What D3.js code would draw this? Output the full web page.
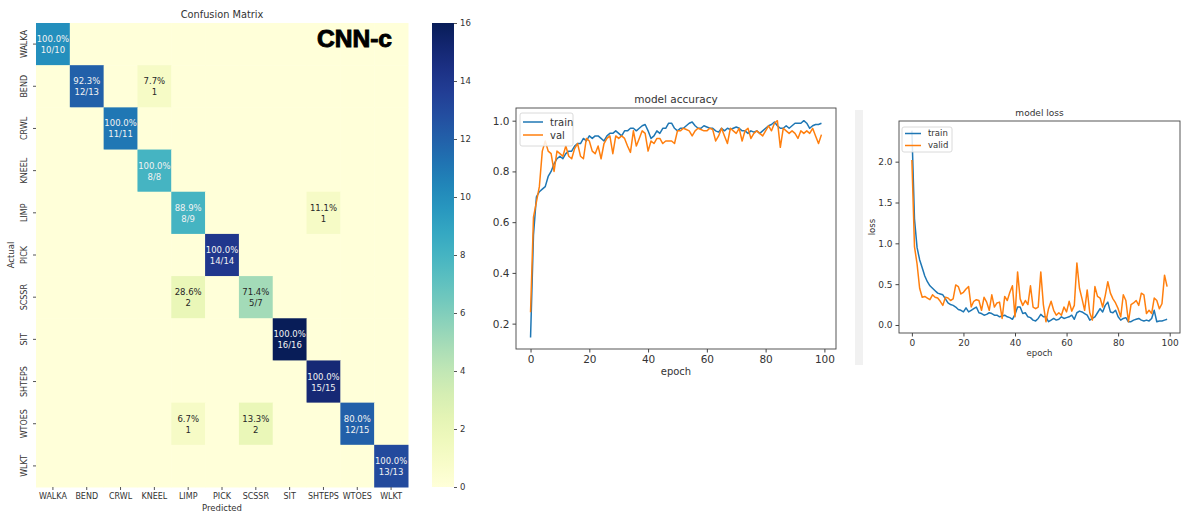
<!DOCTYPE html>
<html>
<head>
<meta charset="utf-8">
<script src="https://cdn.jsdelivr.net/npm/d3@7"></script>
<style>
  html, body { margin: 0; padding: 0; background: #fff; }
  svg { display: block; font-family: "DejaVu Sans", sans-serif; }
</style>
</head>
<body>
<svg id="fig" width="1182" height="515"></svg>
<script>
// ---- confusion matrix data ----
const classes = ["WALKA", "BEND", "CRWL", "KNEEL", "LIMP", "PICK", "SCSSR", "SIT", "SHTEPS", "WTOES", "WLKT"];
const confusion = [
  [10, 0, 0, 0, 0, 0, 0, 0, 0, 0, 0],
  [0, 12, 0, 1, 0, 0, 0, 0, 0, 0, 0],
  [0, 0, 11, 0, 0, 0, 0, 0, 0, 0, 0],
  [0, 0, 0, 8, 0, 0, 0, 0, 0, 0, 0],
  [0, 0, 0, 0, 8, 0, 0, 0, 1, 0, 0],
  [0, 0, 0, 0, 0, 14, 0, 0, 0, 0, 0],
  [0, 0, 0, 0, 2, 0, 5, 0, 0, 0, 0],
  [0, 0, 0, 0, 0, 0, 0, 16, 0, 0, 0],
  [0, 0, 0, 0, 0, 0, 0, 0, 15, 0, 0],
  [0, 0, 0, 0, 1, 0, 2, 0, 0, 12, 0],
  [0, 0, 0, 0, 0, 0, 0, 0, 0, 0, 13]
];
const colorbarTicks = [0, 2, 4, 6, 8, 10, 12, 14, 16];

// ---- training history ----
const epochs = d3.range(100);
const trainAcc = [
  0.145, 0.55, 0.70, 0.72, 0.73, 0.74, 0.78, 0.80, 0.83, 0.85,
  0.86, 0.85, 0.87, 0.88, 0.88, 0.90, 0.91, 0.91, 0.93, 0.92,
  0.94, 0.93, 0.94, 0.94, 0.93, 0.92, 0.94, 0.95, 0.95, 0.96,
  0.95, 0.94, 0.96, 0.96, 0.97, 0.97, 0.96, 0.97, 0.98, 0.985,
  0.96, 0.93, 0.94, 0.96, 0.95, 0.97, 0.97, 0.99, 0.99, 0.97,
  0.96, 0.97, 0.97, 0.98, 0.99, 0.995, 0.98, 0.97, 0.97, 0.98,
  0.975, 0.97, 0.97, 0.96, 0.955, 0.97, 0.96, 0.97, 0.965, 0.97,
  0.975, 0.97, 0.96, 0.96, 0.95, 0.96, 0.955, 0.96, 0.95, 0.96,
  0.97, 0.98, 0.985, 0.995, 0.98, 0.97, 0.97, 0.98, 0.97, 0.98,
  0.99, 0.99, 0.99, 1.0, 0.99, 0.97, 0.98, 0.985, 0.985, 0.99
];
const valAcc = [
  0.245, 0.62, 0.68, 0.74, 0.88, 0.92, 0.88, 0.87, 0.80, 0.88,
  0.87, 0.86, 0.90, 0.86, 0.85, 0.89, 0.91, 0.86, 0.85, 0.93,
  0.92, 0.88, 0.87, 0.90, 0.85, 0.91, 0.93, 0.94, 0.87, 0.94,
  0.93, 0.94, 0.93, 0.90, 0.875, 0.96, 0.90, 0.93, 0.96, 0.95,
  0.88, 0.92, 0.91, 0.93, 0.93, 0.91, 0.92, 0.92, 0.92, 0.91,
  0.96, 0.96, 0.97, 0.965, 0.96, 0.94, 0.96, 0.97, 0.965, 0.96,
  0.96, 0.97, 0.965, 0.92, 0.94, 0.97, 0.94, 0.91, 0.97, 0.96,
  0.95, 0.97, 0.92, 0.96, 0.97, 0.93, 0.95, 0.96, 0.95, 0.94,
  0.96, 0.98, 0.96, 0.99, 1.0, 0.895, 0.97, 0.96, 0.95, 0.96,
  0.95, 0.93, 0.96, 0.95, 0.96, 0.95, 0.97, 0.94, 0.91, 0.945
];
const trainLoss = [
  2.38, 1.30, 0.95, 0.80, 0.70, 0.60, 0.53, 0.48, 0.45, 0.42,
  0.39, 0.38, 0.37, 0.32, 0.27, 0.25, 0.24, 0.22, 0.19, 0.18,
  0.16, 0.21, 0.16, 0.18, 0.20, 0.22, 0.15, 0.14, 0.12, 0.13,
  0.15, 0.14, 0.12, 0.12, 0.10, 0.11, 0.12, 0.10, 0.09, 0.07,
  0.13, 0.22, 0.22, 0.14, 0.15, 0.10, 0.09, 0.06, 0.05, 0.08,
  0.13, 0.10, 0.10, 0.04, 0.06, 0.08, 0.06, 0.07, 0.10, 0.08,
  0.09, 0.10, 0.12, 0.07, 0.15, 0.17, 0.16, 0.14, 0.12, 0.06,
  0.08, 0.10, 0.15, 0.20, 0.16, 0.24, 0.28, 0.16, 0.15, 0.18,
  0.10, 0.06, 0.08, 0.09, 0.04, 0.04, 0.06, 0.07, 0.08, 0.06,
  0.05, 0.06, 0.05, 0.08, 0.18, 0.04, 0.05, 0.05, 0.06, 0.07
];
const validLoss = [
  2.02, 0.96, 0.75, 0.45, 0.34, 0.35, 0.33, 0.31, 0.37, 0.34,
  0.33, 0.29, 0.24, 0.34, 0.33, 0.30, 0.32, 0.49, 0.47, 0.38,
  0.40, 0.44, 0.47, 0.22, 0.29, 0.31, 0.30, 0.18, 0.34, 0.28,
  0.18, 0.37, 0.22, 0.27, 0.28, 0.08, 0.35, 0.30, 0.40, 0.48,
  0.10, 0.65, 0.32, 0.24, 0.30, 0.25, 0.48, 0.22, 0.20, 0.22,
  0.65, 0.25, 0.04, 0.20, 0.29, 0.18, 0.12, 0.15, 0.12, 0.22,
  0.16, 0.29, 0.17, 0.24, 0.76, 0.45, 0.32, 0.18, 0.43, 0.15,
  0.06, 0.47, 0.35, 0.33, 0.22, 0.36, 0.53, 0.39, 0.32, 0.27,
  0.20, 0.10, 0.37, 0.30, 0.04, 0.25, 0.27, 0.30, 0.24, 0.39,
  0.37, 0.14, 0.18, 0.14, 0.33, 0.30, 0.20, 0.26, 0.61, 0.47
];
const accTicks = [0.2, 0.4, 0.6, 0.8, 1.0];
const lossTicks = [0.0, 0.5, 1.0, 1.5, 2.0];
const epochTicks = [0, 20, 40, 60, 80, 100];

const BLUE = "#1f77b4", ORANGE = "#ff7f0e", INK = "#333";
const svg = d3.select("#fig");
svg.append("rect").attr("width", 1182).attr("height", 515).attr("fill", "#fff");
const defs = svg.append("defs");

// ================= confusion matrix heatmap =================
const hm = { x0: 36, x1: 408, y0: 23, y1: 487 };
const xBand = d3.scaleBand().domain(classes).range([hm.x0, hm.x1]);
const yBand = d3.scaleBand().domain(classes).range([hm.y0, hm.y1]);
const color = d3.scaleSequential(d3.interpolateYlGnBu).domain([0, 16]);
const rowTotals = confusion.map(r => d3.sum(r));

const cells = [];
confusion.forEach((row, i) => row.forEach((v, j) => cells.push({ i, j, v })));

const gHm = svg.append("g");
gHm.selectAll("rect.cell").data(cells).join("rect")
  .attr("class", "cell")
  .attr("x", d => xBand(classes[d.j]))
  .attr("y", d => yBand(classes[d.i]))
  .attr("width", xBand.bandwidth() + 0.5)
  .attr("height", yBand.bandwidth() + 0.5)
  .attr("fill", d => color(d.v));

// light text on dark cells, dark text on light cells
function textColorFor(v) {
  const c = d3.rgb(color(v));
  const lin = u => { u /= 255; return u <= 0.03928 ? u / 12.92 : Math.pow((u + 0.055) / 1.055, 2.4); };
  const L = 0.2126 * lin(c.r) + 0.7152 * lin(c.g) + 0.0722 * lin(c.b);
  return L < 0.45 ? "#f2f2f2" : "#262626";
}

const annotated = cells.filter(d => d.v > 0);
const annot = gHm.selectAll("g.annot").data(annotated).join("g")
  .attr("class", "annot")
  .attr("transform", d => `translate(${xBand(classes[d.j]) + xBand.bandwidth() / 2},${yBand(classes[d.i]) + yBand.bandwidth() / 2})`)
  .attr("font-size", 8.5)
  .attr("text-anchor", "middle")
  .attr("fill", d => textColorFor(d.v));
annot.append("text").attr("y", -2)
  .text(d => (100 * d.v / rowTotals[d.i]).toFixed(1) + "%");
annot.append("text").attr("y", 9)
  .text(d => d.i === d.j ? `${d.v}/${rowTotals[d.i]}` : `${d.v}`);

// heatmap axes
const gHx = svg.append("g").attr("transform", `translate(0,${hm.y1})`)
  .call(d3.axisBottom(xBand).tickSize(3).tickPadding(3));
gHx.select(".domain").remove();
gHx.selectAll("line").attr("stroke", "#555");
gHx.selectAll("text").attr("font-size", 8).attr("fill", INK).attr("font-family", "DejaVu Sans");

const gHy = svg.append("g").attr("transform", `translate(${hm.x0},0)`)
  .call(d3.axisLeft(yBand).tickSize(3).tickPadding(3));
gHy.select(".domain").remove();
gHy.selectAll("line").attr("stroke", "#555");
gHy.selectAll("text")
  .attr("font-size", 8).attr("fill", INK).attr("font-family", "DejaVu Sans")
  .attr("text-anchor", "middle").attr("dy", null).attr("x", null)
  .attr("transform", "translate(-9,0) rotate(-90)");

svg.append("text").attr("x", (hm.x0 + hm.x1) / 2).attr("y", 18)
  .attr("text-anchor", "middle").attr("font-size", 9.8).attr("fill", INK)
  .text("Confusion Matrix");
svg.append("text").attr("x", (hm.x0 + hm.x1) / 2).attr("y", 511)
  .attr("text-anchor", "middle").attr("font-size", 8.5).attr("fill", INK)
  .text("Predicted");
svg.append("text").attr("transform", `translate(14,${(hm.y0 + hm.y1) / 2}) rotate(-90)`)
  .attr("text-anchor", "middle").attr("font-size", 8.5).attr("fill", INK)
  .text("Actual");

svg.append("text").attr("x", 392).attr("y", 47)
  .attr("text-anchor", "end")
  .attr("font-family", "Liberation Sans, Arial, sans-serif")
  .attr("font-weight", 900).attr("font-size", 23)
  .attr("fill", "#000").attr("stroke", "#000").attr("stroke-width", 0.9)
  .attr("textLength", 75).attr("lengthAdjust", "spacingAndGlyphs")
  .text("CNN-c");

// colorbar
const cb = { x: 432, w: 22 };
const cbScale = d3.scaleLinear().domain([0, 16]).range([hm.y1, hm.y0]);
const grad = defs.append("linearGradient")
  .attr("id", "cbgrad").attr("x1", 0).attr("x2", 0).attr("y1", 1).attr("y2", 0);
d3.range(0, 1.0001, 0.05).forEach(t => {
  grad.append("stop").attr("offset", t).attr("stop-color", color(t * 16));
});
svg.append("rect").attr("x", cb.x).attr("y", hm.y0)
  .attr("width", cb.w).attr("height", hm.y1 - hm.y0)
  .attr("fill", "url(#cbgrad)");
const gCb = svg.append("g").attr("transform", `translate(${cb.x + cb.w},0)`)
  .call(d3.axisRight(cbScale).tickValues(colorbarTicks).tickFormat(d3.format("d")).tickSize(3).tickPadding(3));
gCb.select(".domain").remove();
gCb.selectAll("line").attr("stroke", "#555");
gCb.selectAll("text").attr("font-size", 8.5).attr("fill", INK).attr("font-family", "DejaVu Sans");

// ================= line chart helper =================
function lineChart(opt) {
  const x = d3.scaleLinear().domain(opt.xDomain).range([opt.left, opt.right]);
  const y = d3.scaleLinear().domain(opt.yDomain).range([opt.bottom, opt.top]);
  const g = svg.append("g");
  g.append("rect").attr("x", opt.left).attr("y", opt.top)
    .attr("width", opt.right - opt.left).attr("height", opt.bottom - opt.top)
    .attr("fill", "#fff");

  const defId = "clip" + opt.id;
  defs.append("clipPath").attr("id", defId)
    .append("rect").attr("x", opt.left).attr("y", opt.top)
    .attr("width", opt.right - opt.left).attr("height", opt.bottom - opt.top);

  const line = d3.line().x((d, i) => x(epochs[i])).y(d => y(d));
  const gl = g.append("g").attr("clip-path", `url(#${defId})`);
  opt.series.forEach(s => {
    gl.append("path").datum(s.values)
      .attr("fill", "none").attr("stroke", s.color)
      .attr("stroke-width", 1.5).attr("stroke-linejoin", "round")
      .attr("d", line);
  });

  const ax = g.append("g").attr("transform", `translate(0,${opt.bottom})`)
    .call(d3.axisBottom(x).tickValues(epochTicks).tickFormat(d3.format("d")).tickSize(3.5).tickPadding(3));
  const ay = g.append("g").attr("transform", `translate(${opt.left},0)`)
    .call(d3.axisLeft(y).tickValues(opt.yTicks).tickFormat(d3.format(".1f")).tickSize(3.5).tickPadding(3));
  [ax, ay].forEach(a => {
    a.select(".domain").remove();
    a.selectAll("line").attr("stroke", "#444");
    a.selectAll("text").attr("font-size", opt.fs).attr("fill", INK).attr("font-family", "DejaVu Sans");
  });

  g.append("rect").attr("x", opt.left).attr("y", opt.top)
    .attr("width", opt.right - opt.left).attr("height", opt.bottom - opt.top)
    .attr("fill", "none").attr("stroke", "#444").attr("stroke-width", 0.9);

  g.append("text").attr("x", (opt.left + opt.right) / 2).attr("y", opt.top - 5)
    .attr("text-anchor", "middle").attr("font-size", opt.fs).attr("fill", INK)
    .text(opt.title);
  g.append("text").attr("x", (opt.left + opt.right) / 2).attr("y", opt.xLabelY)
    .attr("text-anchor", "middle").attr("font-size", opt.fs * 0.95).attr("fill", INK)
    .text("epoch");
  if (opt.yLabel) {
    g.append("text").attr("transform", `translate(${opt.yLabelX},${(opt.top + opt.bottom) / 2}) rotate(-90)`)
      .attr("text-anchor", "middle").attr("font-size", opt.fs * 0.95).attr("fill", INK)
      .text(opt.yLabel);
  }

  // legend
  const L = opt.legend;
  const lg = g.append("g").attr("transform", `translate(${L.x},${L.y})`);
  lg.append("rect").attr("width", L.w).attr("height", L.h).attr("rx", 2)
    .attr("fill", "#fff").attr("fill-opacity", 0.85).attr("stroke", "#d0d0d0").attr("stroke-width", 0.8);
  opt.series.forEach((s, k) => {
    const yy = L.pad + k * L.step;
    lg.append("line").attr("x1", 3).attr("x2", 3 + L.lineLen).attr("y1", yy).attr("y2", yy)
      .attr("stroke", s.color).attr("stroke-width", 1.5);
    lg.append("text").attr("x", 3 + L.lineLen + 7).attr("y", yy).attr("dy", "0.35em")
      .attr("font-size", L.fs).attr("fill", INK).text(s.name);
  });
}

// model accuracy
lineChart({
  id: "acc", left: 516, right: 836, top: 108, bottom: 349,
  xDomain: [-4.95, 103.95], yDomain: [0.1, 1.05],
  yTicks: accTicks, fs: 10.5, title: "model accuracy", xLabelY: 375,
  series: [
    { name: "train", values: trainAcc, color: BLUE },
    { name: "val", values: valAcc, color: ORANGE }
  ],
  legend: { x: 520, y: 113, w: 53, h: 33, pad: 9, step: 13, lineLen: 20, fs: 10 }
});

// separator strip beside the loss panel
svg.append("rect").attr("x", 855).attr("y", 110).attr("width", 8).attr("height", 255)
  .attr("fill", "#f1f1f1");

// model loss
lineChart({
  id: "loss", left: 899, right: 1180, top: 121, bottom: 333,
  xDomain: [-5, 104], yDomain: [-0.098, 2.498],
  yTicks: lossTicks, fs: 9, title: "model loss", xLabelY: 356,
  yLabel: "loss", yLabelX: 875,
  series: [
    { name: "train", values: trainLoss, color: BLUE },
    { name: "valid", values: validLoss, color: ORANGE }
  ],
  legend: { x: 902, y: 127, w: 50, h: 25, pad: 6.5, step: 12, lineLen: 16, fs: 8.5 }
});
</script>
</body>
</html>
